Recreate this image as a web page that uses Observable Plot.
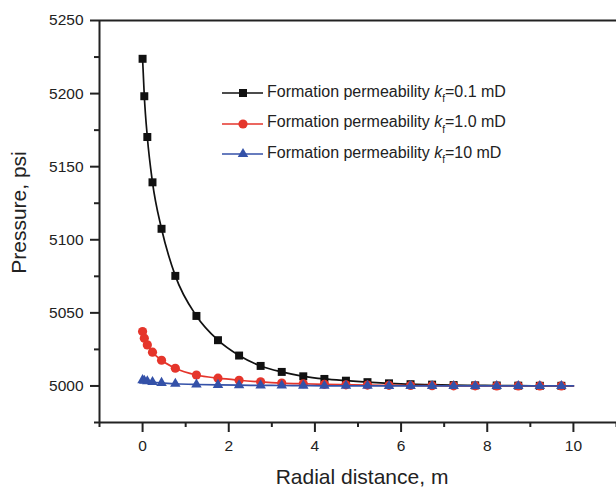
<!DOCTYPE html>
<html><head><meta charset="utf-8">
<script src="https://cdn.jsdelivr.net/npm/d3@7"></script>
<script src="https://cdn.jsdelivr.net/npm/@observablehq/plot@0.6"></script>
<style>
body{margin:0;background:#fff;font-family:"Liberation Sans",Arial,sans-serif;}
#wrap{position:relative;width:616px;height:487px;overflow:hidden;}
.leg{position:absolute;left:222px;height:20px;display:flex;align-items:center;font-size:16px;color:#222;white-space:nowrap;}
.leg svg{display:block;margin-right:4px;}
.leg sub{font-size:10px;position:relative;top:1px;}
</style></head><body><div id="wrap"></div>
<script>
// Data
const radialDistance = [0, 0.04, 0.11, 0.23, 0.44, 0.76, 1.25, 1.75, 2.24, 2.74, 3.23, 3.73, 4.22, 4.72, 5.22, 5.72, 6.22, 6.72, 7.22, 7.72, 8.22, 8.72, 9.22, 9.72];
const pressureK01 = [5223.8, 5198.2, 5170.3, 5139.3, 5107.5, 5075.3, 5047.9, 5031.3, 5020.8, 5013.7, 5009.6, 5006.6, 5004.8, 5003.6, 5002.6, 5001.8, 5001.2, 5000.9, 5000.6, 5000.4, 5000.3, 5000.2, 5000.1, 5000.1];
const pressureK1 = [5037.2, 5032.7, 5028.1, 5023.1, 5017.6, 5012.1, 5007.5, 5005.3, 5003.9, 5002.8, 5002.0, 5001.5, 5001.1, 5000.8, 5000.6, 5000.4, 5000.3, 5000.2, 5000.1, 5000.1, 5000.0, 5000.0, 5000.0, 5000.0];
const pressureK10 = [5004.0, 5003.6, 5003.2, 5002.7, 5002.1, 5001.5, 5001.0, 5000.7, 5000.5, 5000.4, 5000.3, 5000.2, 5000.1, 5000.1, 5000.1, 5000.0, 5000.0, 5000.0, 5000.0, 5000.0, 5000.0, 5000.0, 5000.0, 5000.0];
const curveEndX = 10;
const curveEndPressure = [5000.1, 5000.0, 5000.0];
const seriesPrefix = "Formation permeability ";
const seriesK = ["0.1", "1.0", "10"];
const seriesColors = ["#111111", "#e5352b", "#3451a8"];
const seriesSymbols = ["square", "circle", "triangle"];
const seriesR = [4.5, 4.6, 3.9];
const xTicks = [0, 2, 4, 6, 8, 10];
const xMinorTicks = [-1, 1, 3, 5, 7, 9, 11];
const yTicks = [5000, 5050, 5100, 5150, 5200, 5250];
const yMinorTicks = [4975, 5025, 5075, 5125, 5175, 5225];
const xTitle = "Radial distance, m";
const yTitle = "Pressure, psi";

const seriesValues = [pressureK01, pressureK1, pressureK10];
const seriesMarks = seriesValues.flatMap((vals, s) => {
  const pts = radialDistance.map((x, i) => ({x, p: vals[i]}));
  const linePts = [...pts, {x: curveEndX, p: curveEndPressure[s]}];
  return [
    Plot.line(linePts, {x: "x", y: "p", stroke: seriesColors[s], strokeWidth: 1.7, curve: "monotone-x"}),
    Plot.dot(pts, {x: "x", y: "p", symbol: seriesSymbols[s], r: seriesR[s], fill: seriesColors[s], stroke: "none"})
  ];
});

const axisColor = "#222";
const chart = Plot.plot({
  width: 616, height: 487,
  marginLeft: 99, marginRight: 0, marginTop: 20, marginBottom: 65,
  style: {fontFamily: "'Liberation Sans', Arial, sans-serif", color: axisColor, background: "#fff", overflow: "visible"},
  x: {domain: [-1, 11]},
  y: {domain: [4975, 5250]},
  marks: [
    ...seriesMarks,
    Plot.ruleX([-1], {stroke: axisColor, strokeWidth: 2}),
    Plot.ruleY([4975], {stroke: axisColor, strokeWidth: 2}),
    Plot.ruleY([5250], {stroke: axisColor, strokeWidth: 2}),
    Plot.axisX({ticks: xTicks, tickSize: 10, tickPadding: 7, fontSize: 15.5, strokeWidth: 2, label: null, tickFormat: d => String(d)}),
    Plot.axisX({ticks: xMinorTicks, tickSize: 5, text: null, strokeWidth: 2, label: null}),
    Plot.axisY({ticks: yTicks, tickSize: 9, tickPadding: 7, fontSize: 15.5, strokeWidth: 2, label: null, tickFormat: d => String(d)}),
    Plot.axisY({ticks: yMinorTicks, tickSize: 5, text: null, strokeWidth: 2, label: null}),
    Plot.text([xTitle], {frameAnchor: "bottom", lineAnchor: "middle", textAnchor: "middle", dy: 55, dx: 4, fontSize: 21, fill: axisColor}),
    Plot.text([yTitle], {frameAnchor: "left", lineAnchor: "middle", textAnchor: "middle", rotate: -90, dx: -80, dy: -9, fontSize: 21, fill: axisColor})
  ]
});
const wrap = document.getElementById("wrap");
wrap.appendChild(chart);

// Legend inside the plot area
const legendTops = [83, 113.5, 144];
seriesK.forEach((k, s) => {
  const row = document.createElement("div");
  row.className = "leg";
  row.style.top = legendTops[s] + "px";
  const sym = d3.symbol(s === 0 ? d3.symbolSquare : s === 1 ? d3.symbolCircle : d3.symbolTriangle, Math.PI * seriesR[s] ** 2)();
  row.innerHTML = `<svg width="41" height="20"><line x1="0" x2="41" y1="10" y2="10" stroke="${seriesColors[s]}" stroke-width="1.7"/><path d="${sym}" transform="translate(21,10)" fill="${seriesColors[s]}"/></svg><span>${seriesPrefix}<i>k</i><sub>f</sub>=${k} mD</span>`;
  wrap.appendChild(row);
});
</script></body></html>
